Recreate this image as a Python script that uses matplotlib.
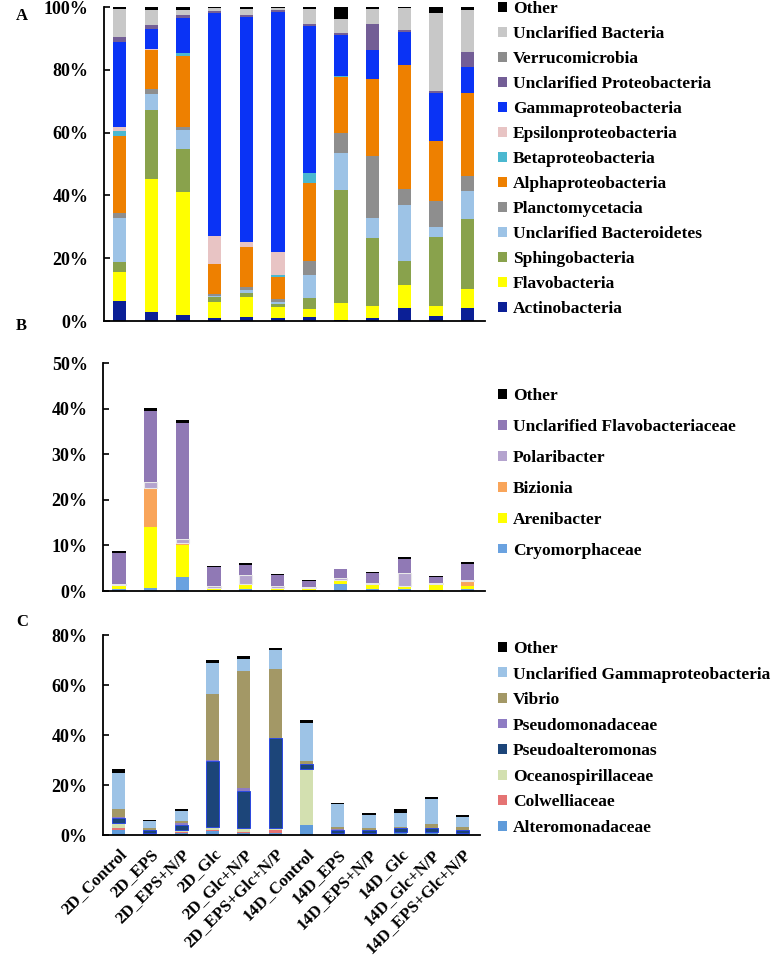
import matplotlib
matplotlib.use('Agg')
import matplotlib.pyplot as plt
import numpy as np
from matplotlib.patches import Patch

plt.rcParams['font.family'] = ['Liberation Serif', 'DejaVu Serif']
plt.rcParams['font.weight'] = 'bold'

samples = ['2D_Control', '2D_EPS', '2D_EPS+N/P', '2D_Glc', '2D_Glc+N/P', '2D_EPS+Glc+N/P',
           '14D_Control', '14D_EPS', '14D_EPS+N/P', '14D_Glc', '14D_Glc+N/P', '14D_EPS+Glc+N/P']

# ---------------- Panel A (class level, %) ----------------
a_names = ['Actinobacteria', 'Flavobacteria', 'Sphingobacteria', 'Unclarified Bacteroidetes',
           'Planctomycetacia', 'Alphaproteobacteria', 'Betaproteobacteria', 'Epsilonproteobacteria',
           'Gammaproteobacteria', 'Unclarified Proteobacteria', 'Verrucomicrobia',
           'Unclarified Bacteria', 'Other']
a_actino  = [6.4, 2.8, 1.9, 1.0, 1.3, 0.9, 1.3, 0.3, 0.9, 4.2, 1.6, 4.0]
a_flavo   = [9.3, 42.3, 39.3, 5.2, 6.4, 3.7, 2.6, 5.5, 3.9, 7.4, 3.2, 6.2]
a_sphingo = [3.2, 22.2, 13.5, 1.3, 1.1, 0.8, 3.5, 35.9, 21.6, 7.4, 22.0, 22.3]
a_ubact   = [13.9, 5.1, 6.1, 0.5, 1.1, 0.8, 7.4, 11.9, 6.3, 17.9, 3.0, 8.8]
a_plancto = [1.6, 1.4, 1.1, 0.7, 0.8, 0.8, 4.3, 6.2, 19.7, 5.0, 8.5, 5.0]
a_alpha   = [24.4, 12.4, 22.6, 9.6, 13.0, 6.9, 24.7, 17.8, 24.6, 39.6, 19.1, 26.3]
a_beta    = [1.8, 0.0, 0.7, 0.0, 0.0, 0.6, 3.2, 0.4, 0.0, 0.0, 0.0, 0.0]
a_epsilon = [1.3, 0.3, 0.0, 8.8, 1.4, 7.4, 0.0, 0.0, 0.0, 0.0, 0.0, 0.0]
a_gamma   = [26.9, 6.6, 11.3, 71.0, 71.8, 76.4, 47.0, 13.0, 9.4, 10.6, 15.1, 8.4]
a_uproteo = [1.8, 1.1, 1.1, 0.5, 0.7, 0.7, 0.7, 0.7, 8.3, 0.5, 0.6, 4.8]
a_verruco = [0.0] * 12
a_ubacteria = [8.8, 5.0, 1.4, 1.1, 1.9, 0.7, 4.8, 4.4, 4.8, 7.1, 25.1, 13.1]
a_other   = [0.6, 0.8, 1.0, 0.3, 0.5, 0.3, 0.5, 3.9, 0.5, 0.3, 1.8, 1.1]
a_values = [a_actino, a_flavo, a_sphingo, a_ubact, a_plancto, a_alpha, a_beta, a_epsilon,
            a_gamma, a_uproteo, a_verruco, a_ubacteria, a_other]
a_colors = ['#0B1F96', '#FFFF00', '#89A24C', '#9DC3E6', '#8E8E8E', '#EE8000', '#4BB8D0',
            '#E8C4C4', '#0A33F5', '#735E96', '#8C8C8C', '#C8C8C8', '#000000']

# ---------------- Panel B (Flavobacteria genera, %) ----------------
b_names = ['Cryomorphaceae', 'Arenibacter', 'Bizionia', 'Polaribacter',
           'Unclarified Flavobacteriaceae', 'Other']
b_cryo  = [0.5, 0.7, 3.0, 0.3, 0.5, 0.2, 0.2, 1.5, 0.4, 0.4, 0.3, 0.4]
b_aren  = [0.8, 13.4, 7.0, 0.4, 0.9, 0.5, 0.4, 0.9, 1.2, 0.7, 1.2, 0.7]
b_biz   = [0.0, 8.5, 0.5, 0.0, 0.1, 0.0, 0.0, 0.0, 0.0, 0.0, 0.0, 1.2]
b_polar = [0.3, 1.3, 1.0, 0.4, 2.0, 0.3, 0.2, 0.4, 0.2, 2.9, 0.3, 0.2]
b_uflavo = [6.8, 15.5, 25.3, 4.1, 2.1, 2.5, 1.3, 2.0, 2.1, 3.0, 1.3, 3.5]
b_other = [0.3, 0.8, 0.6, 0.3, 0.5, 0.3, 0.3, 0.1, 0.3, 0.4, 0.1, 0.3]
b_values = [b_cryo, b_aren, b_biz, b_polar, b_uflavo, b_other]
b_colors = ['#6AA2E0', '#FFFF00', '#F9A55A', '#B4A3CE', '#9079B5', '#000000']

# ---------------- Panel C (Gammaproteobacteria genera, %) ----------------
c_names = ['Alteromonadaceae', 'Colwelliaceae', 'Oceanospirillaceae', 'Pseudoalteromonas',
           'Pseudomonadaceae', 'Vibrio', 'Unclarified Gammaproteobacteria', 'Other']
c_alt   = [2.0, 0.6, 1.0, 1.5, 1.0, 1.0, 4.0, 0.5, 0.8, 1.0, 1.0, 0.6]
c_col   = [0.7, 0.1, 0.2, 0.5, 0.3, 0.9, 0.0, 0.0, 0.0, 0.0, 0.0, 0.0]
c_oce   = [2.2, 0.2, 1.0, 1.3, 1.4, 1.0, 22.3, 0.2, 0.1, 0.1, 0.1, 0.1]
c_psa   = [1.8, 1.0, 1.9, 26.4, 14.9, 35.8, 2.0, 1.5, 1.1, 1.6, 1.6, 1.3]
c_psm   = [0.6, 0.3, 0.6, 0.2, 1.1, 0.1, 0.2, 0.1, 0.1, 0.1, 0.1, 0.1]
c_vib   = [3.0, 0.5, 1.0, 26.7, 46.9, 27.8, 1.2, 0.8, 0.8, 0.6, 1.6, 1.2]
c_ug    = [14.4, 3.0, 3.9, 12.4, 4.8, 7.6, 15.2, 9.2, 5.1, 5.4, 10.1, 4.0]
c_other = [1.7, 0.4, 0.9, 0.9, 1.2, 0.6, 1.1, 0.6, 0.9, 1.6, 0.6, 0.7]
c_values = [c_alt, c_col, c_oce, c_psa, c_psm, c_vib, c_ug, c_other]
c_colors = ['#5F9BDA', '#E57373', '#D3E0B0', '#1C4579', '#8E7CC3', '#A39866', '#9DC3E6', '#000000']

W, H = 771, 960
fig = plt.figure(figsize=(W / 100, H / 100), dpi=100)


def px_axes(left, right, top, bottom):
    return fig.add_axes([left / W, 1 - bottom / H, (right - left) / W, (bottom - top) / H])


axA = px_axes(104, 485, 7, 321)
axB = px_axes(103, 485, 363, 591)
axC = px_axes(103, 480, 635, 835)

x = np.arange(len(samples))
bw = 0.42
TICK_FS = 13
LEG_FS = 12.5


def draw(ax, values, colors, names, ymax, ystep, leg_top, spacing, edges=None):
    bottom = np.zeros(len(samples))
    handles = []
    for vals, col, name in zip(values, colors, names):
        vals = np.array(vals, dtype=float)
        ec, lw = 'none', 0
        if edges and name in edges:
            ec, lw = edges[name]
        ax.bar(x, vals, bw, bottom=bottom, color=col, edgecolor=ec, linewidth=lw, zorder=2)
        bottom += vals
        handles.append(Patch(facecolor=col, edgecolor='none', label=name))
    ax.set_xlim(-0.5, 11.55)
    ax.set_ylim(0, ymax)
    ticks = np.arange(0, ymax + 0.1, ystep)
    ax.set_yticks(ticks)
    ax.set_yticklabels([f'{int(t)}%' for t in ticks], fontsize=TICK_FS, fontweight='bold')
    ax.tick_params(axis='y', direction='in', length=4, width=1.2, pad=11)
    ax.tick_params(axis='x', length=0)
    for s in ['top', 'right']:
        ax.spines[s].set_visible(False)
    for s in ['left', 'bottom']:
        ax.spines[s].set_linewidth(1.3)
    leg = ax.legend(handles=handles[::-1], loc='upper left',
                    bbox_to_anchor=(498 / W, 1 - leg_top / H), bbox_transform=fig.transFigure,
                    frameon=False, fontsize=LEG_FS, handlelength=0.5, handleheight=0.5,
                    handletextpad=0.35, labelspacing=spacing, borderpad=0, borderaxespad=0)
    for t in leg.get_texts():
        t.set_fontweight('bold')
    return ax


draw(axA, a_values, a_colors, a_names, 100, 20, 1, 0.52)
draw(axB, b_values, b_colors, b_names, 50, 10, 388, 0.86,
     edges={'Polaribacter': ('#E8E8E8', 0.8)})
draw(axC, c_values, c_colors, c_names, 80, 20, 641, 0.55,
     edges={'Pseudoalteromonas': ('#2A48E0', 0.7)})

axA.set_xticks(x)
axA.set_xticklabels([])
axB.set_xticks(x)
axB.set_xticklabels([])
axC.set_xticks(x)
axC.set_xticklabels(samples, rotation=45, ha='right', rotation_mode='anchor',
                    fontsize=12.2, fontweight='bold')
axC.tick_params(axis='x', pad=8)

for lab, ypx in [('A', 16), ('B', 326), ('C', 622)]:
    fig.text(16 / W, 1 - ypx / H, lab, fontsize=12, fontweight='bold', va='center', ha='left')

fig.savefig('out.png', dpi=100)
